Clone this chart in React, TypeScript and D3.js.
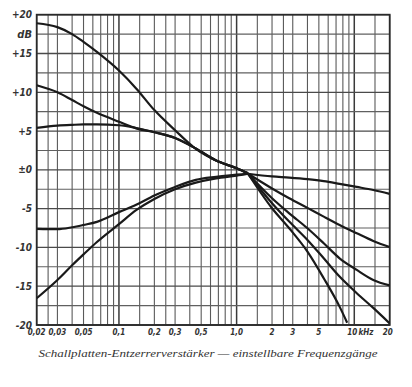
import React from "react";
import * as d3 from "d3";

const W = 412;
const H = 387;

// Tick labels
const xTickValues = [0.02, 0.03, 0.05, 0.1, 0.2, 0.3, 0.5, 1, 2, 3, 5, 10, 20];
const xTickLabels = ["0,02", "0,03", "0,05", "0,1", "0,2", "0,3", "0,5", "1,0", "2", "3", "5", "10", "20"];
const yTickValues = [20, 15, 10, 5, 0, -5, -10, -15, -20];
const yTickLabels = ["+20", "+15", "+10", "+5", "±0", "-5", "-10", "-15", "-20"];

// Grid
const gridFreqs = [0.02, 0.025, 0.03, 0.04, 0.05, 0.06, 0.07, 0.08, 0.09, 0.1, 0.15, 0.2, 0.25, 0.3, 0.4, 0.5, 0.6, 0.7, 0.8, 0.9, 1, 1.5, 2, 2.5, 3, 4, 5, 6, 7, 8, 9, 10, 15, 20];
const gridDb = d3.range(-20, 20.01, 2.5);

// Bass curves (kHz, dB)
const bassFreqs = [0.02, 0.03, 0.04, 0.05, 0.065, 0.1, 0.14, 0.2, 0.3, 0.45, 0.67, 1.0, 1.25];
const bassMax = [18.9, 18.4, 17.5, 16.5, 15.2, 12.8, 10.5, 7.7, 5.1, 2.7, 1.2, 0.2, -0.45];
const bassMid = [10.9, 10.0, 9.0, 8.2, 7.35, 6.2, 5.35, 4.85, 4.1, 2.75, 1.2, 0.2, -0.45];
const bassLow = [5.4, 5.7, 5.8, 5.85, 5.85, 5.75, 5.4, 4.85, 4.1, 2.75, 1.2, 0.2, -0.45];
const bassCut1 = [-7.6, -7.65, -7.4, -7.1, -6.7, -5.45, -4.5, -3.3, -2.2, -1.3, -0.9, -0.6, -0.5];
const bassCut2 = [-16.55, -14.2, -12.3, -10.9, -9.3, -7.0, -5.2, -3.75, -2.5, -1.65, -1.1, -0.75, -0.5];

// Treble curves (kHz, dB)
const trebleFreqs = [1.25, 2, 2.8, 4, 5.5, 7.5, 10.5, 14.5, 20];
const trebleFlat = [-0.5, -0.85, -1.0, -1.2, -1.45, -1.8, -2.2, -2.6, -3.1];
const trebleCut1 = [-0.5, -2.4, -3.66, -4.9, -6.03, -7.1, -8.17, -9.16, -9.95];
const trebleCut2 = [-0.5, -3.66, -5.6, -7.53, -9.46, -11.4, -12.9, -14.19, -14.9];
const trebleCut3 = [-0.5, -4.3, -6.67, -9.03, -11.4, -13.76, -15.9, -17.8, -19.8];
const trebleFreqsSteep = [1.25, 2, 2.8, 4, 5.5, 7.5, 8.7];
const trebleCut4 = [-0.5, -4.95, -7.53, -10.54, -13.97, -17.63, -19.7];

const caption = "Schallplatten-Entzerrerverstärker — einstellbare Frequenzgänge";

const left = 36.7, right = 389.7, top = 14.7, bottom = 325;

export default function App() {
  const x = d3.scaleLog().domain([0.02, 20]).range([left, right]);
  const y = d3.scaleLinear().domain([-20, 20]).range([bottom, top]);

  const line = d3
    .line<[number, number]>()
    .x((d) => x(d[0]))
    .y((d) => y(d[1]))
    .curve(d3.curveMonotoneX);

  const zip = (fs: number[], vs: number[]) => fs.map((f, i) => [f, vs[i]] as [number, number]);

  const series: [number, number][][] = [
    zip(bassFreqs, bassMax),
    zip(bassFreqs, bassMid),
    zip(bassFreqs, bassLow),
    zip(bassFreqs, bassCut1),
    zip(bassFreqs, bassCut2),
    zip(trebleFreqs, trebleFlat),
    zip(trebleFreqs, trebleCut1),
    zip(trebleFreqs, trebleCut2),
    zip(trebleFreqs, trebleCut3),
    zip(trebleFreqsSteep, trebleCut4),
  ];

  const labelFont = "'DejaVu Sans Condensed', 'Liberation Sans Narrow', 'DejaVu Sans', sans-serif";
  const xLabelX = (v: number) => (v === 10 ? x(v) - 2 : v === 20 ? x(v) - 2 : x(v));

  return (
    <svg
      width={W}
      height={H}
      style={{ position: "absolute", left: 0, top: 0, background: "#fff" }}
    >
      <rect x={0} y={0} width={W} height={H} fill="#fff" />
      {/* grid */}
      <g>
        {gridFreqs.map((f) => {
          const major = [0.1, 1, 10].includes(f);
          return (
            <line
              key={"v" + f}
              x1={x(f)}
              x2={x(f)}
              y1={top}
              y2={bottom}
              stroke={major ? "#3a3a3a" : "#5a5a5a"}
              strokeWidth={major ? 1.5 : 1.1}
            />
          );
        })}
        {gridDb.map((v) => (
          <line
            key={"h" + v}
            x1={left}
            x2={right}
            y1={y(v)}
            y2={y(v)}
            stroke={v % 5 === 0 ? "#4a4a4a" : "#606060"}
            strokeWidth={v % 5 === 0 ? 1.3 : 1.1}
          />
        ))}
        <rect x={left} y={top} width={right - left} height={bottom - top} fill="none" stroke="#2a2a2a" strokeWidth={1.8} />
      </g>
      {/* curves */}
      <defs>
        <clipPath id="plotclip">
          <rect x={left} y={top} width={right - left} height={bottom - top} />
        </clipPath>
      </defs>
      <g clipPath="url(#plotclip)">
        {series.map((s, i) => (
          <path key={i} d={line(s) || ""} fill="none" stroke="#1a1a1a" strokeWidth={2.2} strokeLinejoin="round" />
        ))}
      </g>
      {/* y labels */}
      <g fontFamily={labelFont} fontStyle="italic" fontWeight="bold" fontSize={10} fill="#333">
        {yTickValues.map((v, i) => (
          <text key={v} x={32} y={y(v)} dy="0.35em" textAnchor="end">
            {yTickLabels[i]}
          </text>
        ))}
        <text x={32} y={y(17.5)} dy="0.35em" textAnchor="end" fontSize={11}>
          dB
        </text>
      </g>
      {/* x labels */}
      <g fontFamily={labelFont} fontStyle="italic" fontWeight="bold" fontSize={8} fill="#333">
        {xTickValues.map((v, i) => (
          <text key={v} x={xLabelX(v)} y={335} textAnchor="middle">
            {xTickLabels[i]}
          </text>
        ))}
        <text x={366} y={335} textAnchor="middle">
          kHz
        </text>
      </g>
      <text
        x={208}
        y={357}
        textAnchor="middle"
        fontFamily="'Liberation Serif', 'DejaVu Serif', serif"
        fontStyle="italic"
        fontSize={11}
        fill="#333"
        textLength={339}
        lengthAdjust="spacingAndGlyphs"
      >
        {caption}
      </text>
    </svg>
  );
}
